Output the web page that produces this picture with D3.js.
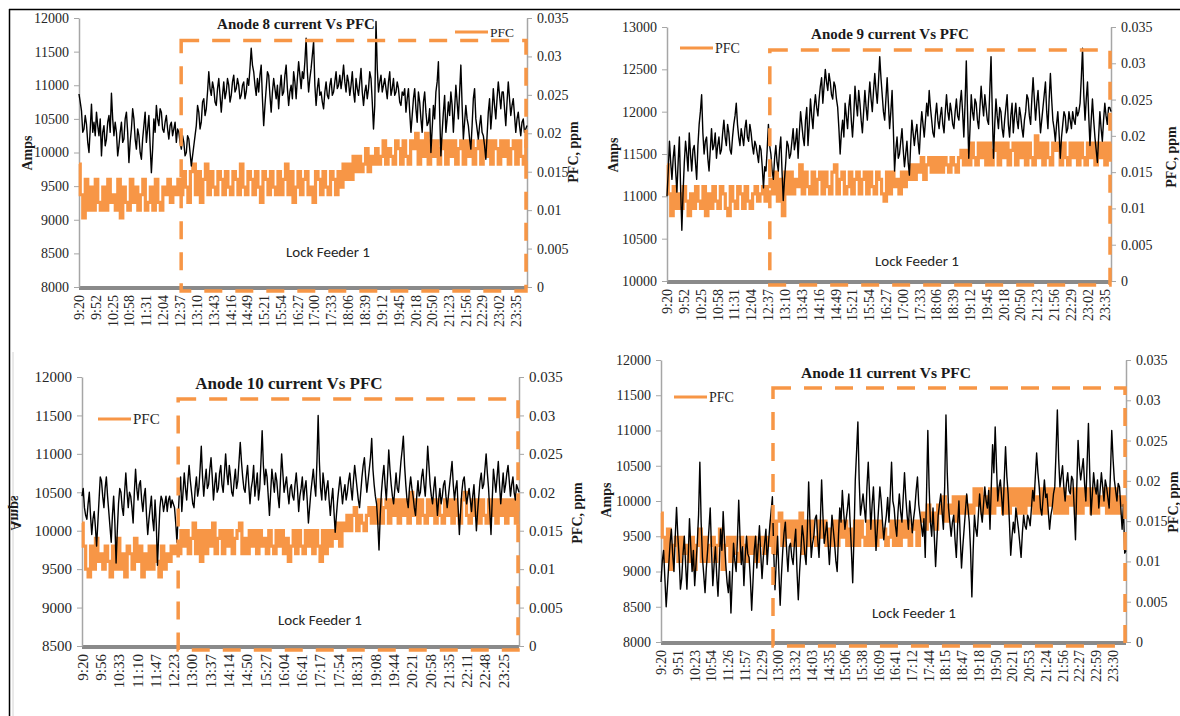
<!DOCTYPE html>
<html>
<head>
<meta charset="utf-8">
<script src="https://d3js.org/d3.v7.min.js"></script>
<style>
  body { margin: 0; background: #fff; }
  svg { display: block; }
</style>
</head>
<body>
<svg id="chart" width="1180" height="716"></svg>
<script>
// tick labels on the category (time) axis
var timeLabels89 = ["9:20","9:52","10:25","10:58","11:31","12:04","12:37","13:10","13:43","14:16","14:49","15:21","15:54","16:27","17:00","17:33","18:06","18:39","19:12","19:45","20:18","20:50","21:23","21:56","22:29","23:02","23:35"];
var timeLabels10 = ["9:20","9:56","10:33","11:10","11:47","12:23","13:00","13:37","14:14","14:50","15:27","16:04","16:41","17:17","17:54","18:31","19:08","19:44","20:21","20:58","21:35","22:11","22:48","23:25"];
var timeLabels11 = ["9:20","9:51","10:23","10:54","11:26","11:57","12:29","13:00","13:32","14:03","14:35","15:06","15:38","16:09","16:41","17:12","17:44","18:15","18:47","19:18","19:50","20:21","20:53","21:24","21:56","22:27","22:59","23:30"];

// amps axis ticks
var ampTicks8 = [8000, 8500, 9000, 9500, 10000, 10500, 11000, 11500, 12000];
var ampTicks9 = [10000, 10500, 11000, 11500, 12000, 12500, 13000];
var ampTicks10 = [8500, 9000, 9500, 10000, 10500, 11000, 11500, 12000];
var ampTicks11 = [8000, 8500, 9000, 9500, 10000, 10500, 11000, 11500, 12000];

// PFC axis ticks (ppm)
var pfcTicks = [0, 0.005, 0.01, 0.015, 0.02, 0.025, 0.03, 0.035];
var pfcTickLabels = ["0", "0.005", "0.01", "0.015", "0.02", "0.025", "0.03", "0.035"];

// Anode 8 current (A), evenly sampled 9:20 -> end
var amps8 = [
  10870, 10750, 10620, 10300, 10350, 10550, 10420, 10150, 10000, 10350, 10720, 10300, 10450, 10250, 10600, 10400, 10250, 10500, 9950, 10300,
  10400, 10100, 10200, 10450, 10550, 10300, 10880, 10500, 10250, 10450, 10300, 9950, 10100, 10300, 10450, 10150, 10200, 10500, 10600, 10300,
  9850, 10150, 10350, 10650, 10500, 10200, 10050, 10350, 10250, 10000, 9900, 10200, 10400, 10600, 10150, 10350, 10550, 10100, 9700, 10050,
  10500, 10300, 10700, 10500, 10400, 10650, 10600, 10350, 10300, 10450, 10550, 10350, 10200, 10400, 10450, 10250, 10350, 10450, 10150, 10350,
  10300, 10150, 10050, 10250, 10150, 9950, 10000, 10250, 10200, 10000, 9800, 9950, 10100, 10250, 10400, 10700, 10600, 10350, 10450, 10750,
  10800, 10550, 10650, 10900, 11200, 10950, 10850, 11050, 10950, 10750, 10700, 10950, 11100, 10850, 10600, 10850, 11050, 10800, 10900, 11100,
  11000, 10750, 10850, 11050, 11150, 10900, 10950, 11100, 11000, 10800, 10850, 11000, 11050, 10800, 10900, 11100, 11000, 11250, 11550, 11300,
  11200, 11000, 10850, 11100, 10900, 11150, 11300, 10800, 10400, 10700, 10950, 11200, 11150, 10850, 10600, 10900, 11100, 10950, 10800, 11000,
  10650, 10950, 11150, 10850, 10900, 11150, 11300, 10950, 10700, 10900, 11000, 10800, 11200, 11050, 10800, 11100, 11350, 11150, 10950, 11200,
  11100, 11350, 11700, 11200, 10900, 11100, 11250, 11450, 11650, 11000, 10700, 10950, 11100, 10850, 10900, 10750, 10650, 10900, 11050, 10850,
  10800, 11000, 11100, 10850, 10900, 11050, 11200, 10950, 11000, 11150, 10950, 11100, 11300, 11050, 10900, 11150, 11050, 10850, 11000, 11200,
  10900, 10750, 11100, 10950, 10850, 11050, 11250, 10900, 10700, 10900, 11000, 10800, 10950, 11200, 11100, 10750, 10350, 10700, 11950, 11250,
  10900, 11050, 11150, 10900, 11000, 11100, 10950, 10800, 11050, 11200, 10850, 10950, 11100, 10850, 10900, 11050, 10950, 10750, 10700, 10900,
  10850, 10950, 10600, 10800, 10950, 10600, 10300, 10550, 10800, 10950, 10650, 10450, 10900, 10750, 10500, 10300, 10750, 10900, 10600, 10400,
  10450, 10650, 10000, 10350, 10700, 10500, 10900, 11050, 11350, 10600, 9950, 10300, 10600, 10850, 10300, 10500, 10750, 10550, 10900, 10700,
  10300, 10650, 11000, 10750, 10500, 10900, 11300, 10700, 10200, 10450, 10700, 10500, 10400, 10200, 10050, 10400, 10800, 10950, 10500, 10350,
  10200, 10400, 10550, 10300, 10250, 10100, 9900, 10250, 10600, 10800, 10350, 10600, 10950, 10700, 10500, 10800, 11050, 10850, 10650, 10900,
  10900, 10650, 10400, 10750, 11050, 10800, 10550, 10700, 10800, 10550, 10300, 10500, 10600, 10400, 10250, 10450, 10500, 10300, 10350, 10400
];
// Anode 8 PFC, in 0.001 ppm
var pfc8 = [
  16, 12, 9, 14, 10, 13, 10, 14, 11, 10,
  13, 10, 14, 11, 12, 10, 14, 9, 13, 11,
  10, 14, 11, 13, 10, 12, 14, 10, 11, 13,
  10, 14, 11, 10, 13, 12, 14, 11, 13, 12,
  14, 12, 15, 13, 11, 15, 16, 12, 15, 11,
  14, 16, 12, 15, 13, 12, 15, 14, 12, 15,
  13, 12, 15, 14, 12, 16, 13, 12, 15, 14,
  12, 15, 13, 11, 15, 14, 12, 15, 13, 12,
  15, 12, 14, 16, 12, 15, 11, 13, 15, 12,
  14, 15, 12, 13, 11, 15, 14, 12, 15, 13,
  12, 15, 14, 12, 15, 13, 16, 14, 16, 14,
  17, 15, 17, 15, 16, 18, 15, 17, 16, 18,
  16, 17, 19, 16, 18, 17, 16, 19, 18, 16,
  19, 17, 16, 19, 18, 20, 16, 19, 17, 20,
  16, 19, 17, 19, 16, 18, 19, 16, 19, 17,
  19, 16, 18, 19, 16, 19, 17, 19, 16, 18,
  19, 16, 19, 17, 19, 16, 19, 18, 16, 19,
  17, 19, 16, 18, 19, 16, 19, 17, 16, 19
];

var amps9 = [
  11000, 11300, 11650, 11400, 11200, 11450, 11600, 11300, 11050, 11400, 11700, 11100, 10600, 11050, 11400, 11650, 11500, 11300, 11750, 11500,
  11300, 11550, 11600, 11400, 11200, 11600, 11850, 12000, 12200, 11750, 11500, 11650, 11700, 11450, 11300, 11550, 11800, 11550, 11600, 11750,
  11450, 11600, 11700, 11500, 11550, 11750, 11900, 11700, 11600, 11850, 11750, 11550, 11500, 11700, 11850, 11950, 12100, 11850, 11700, 11600,
  11800, 11700, 11600, 11800, 11900, 11700, 11650, 11850, 11750, 11600, 11500, 11650, 11600, 11500, 11400, 11600, 11550, 11350, 11100, 11350,
  11300, 11550, 11850, 11600, 11500, 11300, 11200, 11450, 11600, 11400, 11300, 11550, 11700, 11300, 10950, 11200, 11400, 11650, 11600, 11450,
  11500, 11650, 11800, 11550, 11650, 11800, 11450, 11750, 12000, 11850, 11700, 11600, 11900, 12050, 11600, 11850, 12150, 11950, 11800, 12050,
  12200, 12050, 11950, 12150, 12300, 12400, 12100, 12300, 12500, 12350, 12250, 12450, 12350, 12200, 12150, 12350, 12300, 12150, 12050, 11800,
  11500, 11750, 11900, 11700, 12100, 11950, 11800, 12050, 12200, 11900, 11700, 11950, 12300, 12100, 11950, 12250, 12100, 11900, 11750, 12000,
  12250, 12050, 11900, 12150, 12350, 12150, 12000, 12250, 12450, 12250, 12100, 12350, 12650, 12400, 12200, 12000, 11900, 12150, 12400, 12100,
  11800, 12000, 12250, 11800, 11300, 11550, 11700, 11450, 11500, 11650, 11800, 11550, 11350, 11500, 11650, 11400, 11250, 11600, 11900, 11750,
  11600, 11750, 11850, 11650, 11500, 11800, 12000, 11850, 11700, 11900, 12100, 11950, 12250, 12050, 11900, 11750, 11700, 11950, 12100, 11900,
  11800, 11950, 12050, 11850, 11750, 12000, 12200, 12000, 11900, 12100, 12000, 11850, 11800, 12000, 12150, 11950, 11900, 12100, 12250, 12000,
  11700, 12100, 12600, 12000, 11450, 11800, 12200, 12000, 11900, 12150, 12100, 11900, 11800, 12050, 12300, 12100, 11950, 12200, 12050, 11900,
  11850, 12250, 12650, 12000, 11450, 11850, 12150, 11950, 11800, 12050, 12000, 11800, 11700, 11900, 12050, 12200, 11850, 11700, 11950, 12100,
  11750, 11950, 12100, 11900, 11800, 12050, 11950, 11800, 11700, 11900, 12000, 12200, 12150, 11950, 11850, 12150, 12400, 12150, 11900, 12100,
  12250, 12000, 11750, 11900, 12050, 12200, 12350, 12000, 11800, 12150, 12450, 12150, 11900, 11800, 11650, 11850, 12000, 11750, 11450, 11700,
  11850, 12000, 11950, 11750, 11800, 12000, 11900, 11800, 12000, 11900, 11850, 12050, 11950, 12000, 12100, 12400, 12750, 12200, 11900, 12150,
  12350, 11950, 11600, 11900, 12150, 11900, 11700, 11550, 11400, 11700, 12000, 11800, 11650, 11900, 12100, 11950, 11850, 12050, 12050, 12000
];
var pfc9 = [
  16, 12, 9, 13, 10, 12, 10, 13, 11, 9,
  12, 10, 13, 11, 10, 13, 9, 12, 10, 13,
  11, 10, 13, 12, 10, 9, 13, 11, 10, 13,
  12, 10, 13, 11, 10, 12, 13, 11, 12, 13,
  11, 13, 14, 12, 15, 11, 14, 9, 15, 12,
  15, 12, 14, 13, 16, 12, 15, 13, 12, 15,
  12, 14, 15, 12, 15, 13, 12, 15, 16, 12,
  14, 15, 12, 13, 15, 12, 14, 15, 12, 14,
  15, 12, 15, 13, 12, 15, 14, 12, 11, 15,
  12, 15, 13, 14, 12, 15, 13, 15, 14, 16,
  14, 16, 15, 17, 14, 16, 17, 15, 17, 15,
  17, 15, 17, 16, 15, 17, 16, 15, 17, 18,
  16, 18, 16, 19, 17, 16, 19, 17, 19, 16,
  19, 16, 18, 19, 16, 19, 17, 19, 16, 18,
  19, 16, 19, 17, 19, 16, 19, 17, 16, 20,
  17, 19, 16, 19, 17, 16, 19, 18, 19, 16,
  19, 17, 16, 19, 17, 19, 16, 19, 17, 16,
  19, 17, 19, 16, 19, 17, 19, 16, 19, 17
];

var amps10 = [
  10450, 10550, 10300, 10200, 10150, 10350, 10500, 10200, 9950, 10150, 10250, 10050, 9800, 10100, 10400, 10700, 10650, 10450, 10300, 10550,
  10700, 10450, 10250, 10050, 9850, 10200, 10450, 10100, 9580, 10000, 10350, 10550, 10500, 10300, 10200, 10500, 10750, 10500, 10300, 10500,
  10450, 10300, 10100, 10500, 10800, 10550, 10400, 10600, 10650, 10400, 10250, 10450, 10550, 10200, 9950, 10150, 10300, 10450, 10150, 10000,
  10400, 10100, 9550, 9950, 10300, 10450, 10400, 10250, 10350, 10450, 10250, 10400, 10450, 10300, 10400, 10350, 10300, 10100, 9850, 10200,
  10500, 10700, 10250, 10500, 10750, 10550, 10400, 10650, 10850, 10650, 10500, 10350, 10300, 10550, 10700, 10450, 10550, 10800, 11100, 10700,
  10450, 10650, 10800, 10550, 10600, 10800, 10950, 10700, 10400, 10600, 10750, 10500, 10550, 10750, 10850, 10600, 10500, 10750, 11000, 10750,
  10600, 10850, 10700, 10500, 10450, 10650, 10800, 10550, 10650, 10900, 11150, 10900, 10700, 10550, 10500, 10700, 10850, 10600, 10350, 10550,
  10650, 10850, 10450, 10600, 10750, 10400, 10550, 10900, 11300, 10850, 10600, 10800, 10700, 10450, 10200, 10500, 10800, 10650, 10500, 10750,
  10650, 10450, 10300, 10650, 11000, 10750, 10500, 10600, 10700, 10500, 10350, 10550, 10600, 10450, 10400, 10600, 10750, 10550, 10250, 10450,
  10550, 10700, 10400, 10550, 10650, 10400, 10100, 10300, 10500, 10650, 10800, 10600, 10450, 10900, 11500, 10900, 10550, 10400, 10750, 10600,
  10400, 10550, 10650, 10400, 10200, 10400, 10550, 10250, 9980, 10200, 10400, 10550, 10700, 10550, 10350, 10500, 10600, 10400, 10500, 10650,
  10750, 10550, 10400, 10650, 10850, 10700, 10550, 10400, 10300, 10500, 10700, 10850, 10950, 10700, 10500, 10650, 10800, 10950, 11200, 10800,
  10600, 10450, 10350, 10100, 9750, 10200, 10500, 10700, 10850, 10600, 10400, 10700, 11050, 10800, 10600, 10450, 10350, 10550, 10750, 10550,
  10500, 10700, 10900, 11050, 11230, 10850, 10600, 10400, 10300, 10550, 10700, 10550, 10450, 10300, 10200, 10450, 10650, 10450, 10500, 10700,
  10800, 10600, 10450, 10750, 11100, 10850, 10600, 10450, 10350, 10550, 10700, 10450, 10200, 10400, 10550, 10350, 10450, 10600, 10650, 10450,
  10300, 10450, 10600, 10750, 10900, 10600, 10400, 10550, 10650, 10300, 9950, 10250, 10500, 10650, 10700, 10500, 10350, 10450, 10550, 10400,
  10250, 10450, 10600, 10300, 10000, 10250, 10450, 10650, 10750, 10550, 10600, 10800, 11000, 10750, 10550, 10250, 9950, 10400, 10800, 10650,
  10500, 10700, 10900, 10600, 10350, 10550, 10750, 10500, 10600, 10750, 10850, 10650, 10450, 10600, 10700, 10500, 10400, 10600, 10550, 10500
];
var pfc10 = [
  16, 13, 10, 9, 13, 10, 14, 11, 12, 10,
  13, 11, 9, 13, 10, 14, 10, 12, 9, 13,
  12, 10, 14, 11, 13, 9, 12, 10, 13, 10,
  13, 11, 9, 13, 10, 12, 11, 13, 12, 13,
  12, 15, 13, 15, 12, 14, 16, 12, 15, 11,
  15, 12, 15, 13, 16, 12, 14, 15, 12, 15,
  13, 15, 12, 14, 15, 16, 12, 14, 12, 15,
  13, 15, 12, 15, 13, 14, 12, 15, 13, 12,
  15, 13, 15, 12, 14, 11, 13, 15, 12, 15,
  13, 12, 15, 13, 15, 12, 15, 13, 11, 15,
  12, 15, 13, 15, 14, 16, 13, 16, 15, 17,
  15, 17, 18, 15, 17, 16, 15, 17, 18, 16,
  18, 16, 19, 16, 18, 19, 16, 19, 17, 19,
  16, 19, 17, 19, 16, 20, 17, 19, 16, 19,
  17, 16, 19, 17, 19, 16, 19, 17, 16, 19,
  17, 19, 16, 19, 17, 16, 19, 20, 17, 16,
  19, 17, 19, 16, 19, 17, 16, 19, 17, 19,
  16, 19, 17, 19, 16, 19, 17, 19, 16, 18
];

var amps11 = [
  8850, 9150, 9300, 8900, 8500, 8800, 9100, 9400, 9600, 9250, 9000, 9500, 9910, 9500, 9200, 8750, 8900, 9250, 9500, 9100,
  8750, 9200, 9750, 9350, 9000, 9300, 8800, 9100, 9400, 9800, 10550, 9700, 9200, 8950, 8700, 9050, 9300, 9600, 9900, 9300,
  8800, 9100, 9350, 8950, 8650, 9100, 9600, 9300, 9850, 9450, 9100, 8850, 8700, 9000, 8410, 8900, 9400, 9150, 9000, 9450,
  10010, 9500, 9100, 9350, 8800, 9200, 9500, 9250, 9200, 8900, 8450, 8850, 9300, 9500, 9050, 9350, 9650, 9250, 8900, 9200,
  9400, 9600, 9100, 9400, 9650, 9850, 10060, 9300, 8740, 9150, 9500, 9000, 8520, 8950, 9300, 9550, 9700, 9300, 9000, 9350,
  9400, 9200, 9100, 9400, 9600, 9000, 8600, 9000, 9300, 9650, 9500, 9250, 9100, 9600, 10270, 9700, 9200, 9400, 9500, 9750,
  9800, 9450, 9200, 9700, 10300, 9800, 9400, 9550, 9700, 9400, 9100, 9450, 9800, 9600, 9400, 9150, 9000, 9500, 9900, 9700,
  10150, 9850, 9600, 9750, 9900, 10100, 9700, 9300, 8840, 9500, 10300, 10700, 11120, 10300, 9800, 9950, 10100, 9900, 9700, 10200,
  10550, 10100, 9600, 9950, 10200, 9750, 9300, 9600, 9900, 10200, 10000, 9700, 9450, 9650, 9800, 10050, 9700, 10100, 10550, 10000,
  9900, 9650, 9500, 9850, 10100, 9850, 9700, 10050, 10400, 10050, 9800, 9600, 10000, 9800, 9550, 9750, 9900, 10150, 10340, 9950,
  9800, 9650, 9500, 9750, 9200, 10100, 11000, 10200, 9700, 9500, 9900, 9500, 9070, 9450, 9800, 9950, 10100, 9850, 9600, 10200,
  11220, 10400, 9900, 9700, 9500, 9700, 9800, 9450, 9200, 9650, 10000, 9500, 9050, 9350, 9600, 9850, 10100, 9900, 9700, 9300,
  8640, 9300, 9800, 9600, 9500, 9800, 10100, 9850, 9700, 9950, 10200, 10000, 9900, 10150, 9600, 10200, 10800, 10400, 11050, 10500,
  10000, 10200, 10300, 10050, 9800, 10300, 10770, 10350, 10100, 9700, 9230, 9500, 9700, 9550, 9900, 9750, 9600, 9400, 9200, 9550,
  9800, 9650, 9600, 9800, 9750, 9650, 9900, 10150, 10000, 10350, 10680, 10400, 10200, 9900, 9800, 10050, 10300, 10050, 10100, 9850,
  9600, 9800, 9900, 10100, 10200, 10700, 11290, 10600, 10200, 10350, 10500, 10200, 10000, 10250, 10400, 10150, 10100, 10350, 10300, 9900,
  9450, 10200, 10860, 10500, 10300, 10450, 10600, 10250, 10000, 10550, 11100, 10400, 9800, 10100, 10400, 10200, 10100, 10300, 9900, 10150,
  10400, 10200, 10000, 10300, 10200, 10050, 9900, 10400, 11000, 10600, 10300, 10150, 10000, 10250, 10200, 9900, 9600, 9950, 9260, 9300
];
var pfc11 = [
  16, 13, 10, 14, 9, 12, 13, 10, 13, 11,
  12, 10, 13, 9, 12, 14, 10, 13, 10, 12,
  13, 10, 12, 14, 9, 12, 13, 10, 13, 11,
  10, 13, 12, 10, 13, 11, 13, 10, 12, 13,
  11, 13, 12, 15, 11, 15, 16, 12, 15, 13,
  15, 12, 15, 12, 16, 11, 15, 12, 15, 13,
  12, 15, 13, 15, 12, 14, 12, 15, 12, 15,
  13, 15, 12, 14, 12, 15, 12, 15, 13, 12,
  15, 12, 15, 12, 15, 13, 14, 12, 13, 15,
  12, 15, 12, 15, 13, 15, 12, 14, 15, 12,
  15, 16, 14, 17, 15, 16, 14, 17, 16, 18,
  15, 17, 16, 18, 15, 18, 16, 18, 16, 17,
  16, 19, 17, 19, 16, 18, 16, 19, 16, 19,
  17, 19, 16, 19, 16, 19, 17, 19, 16, 19,
  16, 19, 17, 19, 16, 18, 16, 19, 16, 19,
  17, 19, 16, 19, 16, 19, 16, 18, 17, 19,
  16, 19, 16, 19, 17, 19, 16, 19, 16, 18,
  17, 19, 16, 19, 16, 19, 16, 18, 17, 18
];

var ORANGE = "#f79646";
var SERIF = "'Liberation Serif', 'Times New Roman', serif";
var SANS = "Carlito, Lato, 'Open Sans', sans-serif";

// layout of the four charts (pixel boxes + text spots)
var panels = [
  { title: "Anode 8 current Vs PFC", amps: amps8, pfc: pfc8, ampTicks: ampTicks8, labels: timeLabels89,
    end: "23:57", lock: "12:40", boxTop: 11665,
    left: 79, right: 527, top: 18, bottom: 287, fs: 14,
    titleX: 296, titleY: 29, titleFs: 15,
    legX: 455, legY: 32, legFs: 13.5,
    lockX: 286, lockY: 257,
    ampsX: 27, ampsY: 153, pfcX: 573, pfcY: 152 },
  { title: "Anode 9 current Vs PFC", amps: amps9, pfc: pfc9, ampTicks: ampTicks9, labels: timeLabels89,
    end: "23:48", lock: "12:41", boxTop: 12728,
    left: 667, right: 1111, top: 27, bottom: 281, fs: 14,
    titleX: 890, titleY: 39, titleFs: 15,
    legX: 680, legY: 48, legFs: 14,
    lockX: 875, lockY: 266,
    ampsX: 613, ampsY: 155, pfcX: 1171, pfcY: 157 },
  { title: "Anode 10 current Vs PFC", amps: amps10, pfc: pfc10, ampTicks: ampTicks10, labels: timeLabels10,
    end: "23:57", lock: "12:33", boxTop: 11713,
    left: 82, right: 519, top: 377, bottom: 646, fs: 15,
    titleX: 289, titleY: 389, titleFs: 17,
    legX: 98, legY: 419, legFs: 15,
    lockX: 278, lockY: 625,
    ampsX: 16, ampsY: 513, ampsMirror: true, pfcX: 577, pfcY: 513 },
  { title: "Anode 11 current Vs PFC", amps: amps11, pfc: pfc11, ampTicks: ampTicks11, labels: timeLabels11,
    end: "23:56", lock: "12:51", boxTop: 11602,
    left: 661, right: 1126, top: 360, bottom: 642, fs: 14,
    titleX: 886, titleY: 378, titleFs: 15.5,
    legX: 674, legY: 397, legFs: 14,
    lockX: 872, lockY: 618,
    ampsX: 606, ampsY: 500, pfcX: 1173, pfcY: 502 }
];

// minutes after 9:20
function toMin(s) {
  var p = s.split(":");
  return (+p[0]) * 60 + (+p[1]) - (9 * 60 + 20);
}

function styleAxis(sel, fs) {
  sel.select(".domain").attr("stroke", "#a6a6a6").attr("stroke-width", 1.5);
  sel.selectAll(".tick line").attr("stroke", "#a6a6a6");
  sel.selectAll(".tick text")
    .style("font-family", SERIF)
    .style("font-size", fs + "px")
    .attr("fill", "#262626");
}

function drawPanel(svg, p) {
  var endMin = toMin(p.end);
  var x = d3.scaleLinear().domain([0, endMin]).range([p.left, p.right]);
  var yA = d3.scaleLinear().domain(d3.extent(p.ampTicks)).range([p.bottom, p.top]);
  var yP = d3.scaleLinear().domain(d3.extent(pfcTicks)).range([p.bottom, p.top]);
  // samples are evenly spread over the day, each series has its own count
  var tOf = function(i, n) { return i * endMin / (n - 1); };

  var g = svg.append("g");

  // heavy grey category axis (dense tick marks in the original)
  g.append("line")
    .attr("x1", p.left).attr("x2", p.right)
    .attr("y1", p.bottom + 1).attr("y2", p.bottom + 1)
    .attr("stroke", "#8a8a8a").attr("stroke-width", 4);

  var xAxis = g.append("g")
    .attr("transform", "translate(0," + (p.bottom + 3) + ")")
    .call(d3.axisBottom(x)
      .tickValues(p.labels.map(toMin))
      .tickFormat(function(d, i) { return p.labels[i]; })
      .tickSize(0));
  xAxis.select(".domain").remove();
  xAxis.selectAll("text")
    .attr("transform", "rotate(-90)")
    .attr("x", -5).attr("y", 0).attr("dy", "0.35em")
    .style("text-anchor", "end")
    .style("font-family", SERIF)
    .style("font-size", p.fs + "px")
    .attr("fill", "#262626");

  var leftAxis = g.append("g")
    .attr("transform", "translate(" + p.left + ",0)")
    .call(d3.axisLeft(yA).tickValues(p.ampTicks).tickFormat(d3.format("d"))
      .tickSize(5).tickSizeOuter(0).tickPadding(5));
  styleAxis(leftAxis, p.fs);

  var rightAxis = g.append("g")
    .attr("transform", "translate(" + p.right + ",0)")
    .call(d3.axisRight(yP).tickValues(pfcTicks)
      .tickFormat(function(d, i) { return pfcTickLabels[i]; })
      .tickSize(5).tickSizeOuter(0).tickPadding(5));
  styleAxis(rightAxis, p.fs);

  // PFC (secondary axis), values stored in 0.001 ppm
  var nP = p.pfc.length;
  var pfcLine = d3.line()
    .x(function(d, i) { return x(tOf(i, nP)); })
    .y(function(d) { return yP(d / 1000); })
    .curve(d3.curveStep);
  g.append("path")
    .datum(p.pfc)
    .attr("fill", "none")
    .attr("stroke", ORANGE)
    .attr("stroke-width", 3.2)
    .attr("d", pfcLine);

  // anode current
  var nA = p.amps.length;
  var ampLine = d3.line()
    .x(function(d, i) { return x(tOf(i, nA)); })
    .y(function(d) { return yA(d); });
  g.append("path")
    .datum(p.amps)
    .attr("fill", "none")
    .attr("stroke", "#000")
    .attr("stroke-width", 1.4)
    .attr("stroke-linejoin", "round")
    .attr("d", ampLine);

  // dashed box marking the lock feeder period
  var bx = x(toMin(p.lock));
  var by = yA(p.boxTop);
  g.append("rect")
    .attr("x", bx).attr("y", by)
    .attr("width", p.right - 1 - bx)
    .attr("height", p.bottom + 4 - by)
    .attr("fill", "none")
    .attr("stroke", ORANGE)
    .attr("stroke-width", 3.5)
    .attr("stroke-dasharray", "18,13");

  g.append("text")
    .attr("x", p.lockX).attr("y", p.lockY)
    .style("font-family", SANS).style("font-size", "15px")
    .attr("fill", "#262626")
    .text("Lock Feeder 1");

  g.append("text")
    .attr("x", p.titleX).attr("y", p.titleY)
    .attr("text-anchor", "middle")
    .style("font-family", SERIF).style("font-weight", "bold")
    .style("font-size", p.titleFs + "px")
    .attr("fill", "#1a1a1a")
    .text(p.title);

  // legend
  g.append("line")
    .attr("x1", p.legX).attr("x2", p.legX + 33)
    .attr("y1", p.legY).attr("y2", p.legY)
    .attr("stroke", ORANGE).attr("stroke-width", 3);
  g.append("text")
    .attr("x", p.legX + 35).attr("y", p.legY + 4.5)
    .style("font-family", SERIF).style("font-size", p.legFs + "px")
    .attr("fill", "#262626")
    .text("PFC");

  // axis titles
  var ampsRot = p.ampsMirror ? " rotate(-90) scale(1,-1)" : " rotate(-90)";
  g.append("text")
    .attr("transform", "translate(" + p.ampsX + "," + p.ampsY + ")" + ampsRot)
    .attr("text-anchor", "middle").attr("dy", "0.35em")
    .style("font-family", SERIF).style("font-weight", "bold").style("font-size", "14px")
    .attr("fill", "#1a1a1a")
    .text("Amps");
  g.append("text")
    .attr("transform", "translate(" + p.pfcX + "," + p.pfcY + ") rotate(-90)")
    .attr("text-anchor", "middle").attr("dy", "0.35em")
    .style("font-family", SERIF).style("font-weight", "bold").style("font-size", "14px")
    .attr("fill", "#1a1a1a")
    .text("PFC, ppm");
}

var svg = d3.select("#chart");
svg.append("rect").attr("width", 1180).attr("height", 716).attr("fill", "#fff");

// page frame
svg.append("line").attr("x1", 9).attr("x2", 1180).attr("y1", 9.5).attr("y2", 9.5)
  .attr("stroke", "#000").attr("stroke-width", 1.5);
svg.append("line").attr("x1", 9.5).attr("x2", 9.5).attr("y1", 9).attr("y2", 716)
  .attr("stroke", "#000").attr("stroke-width", 1.5);
svg.append("line").attr("x1", 13).attr("x2", 13).attr("y1", 352).attr("y2", 716)
  .attr("stroke", "#d4d4d4").attr("stroke-width", 1);

panels.forEach(function(p) { drawPanel(svg, p); });
</script>
</body>
</html>
